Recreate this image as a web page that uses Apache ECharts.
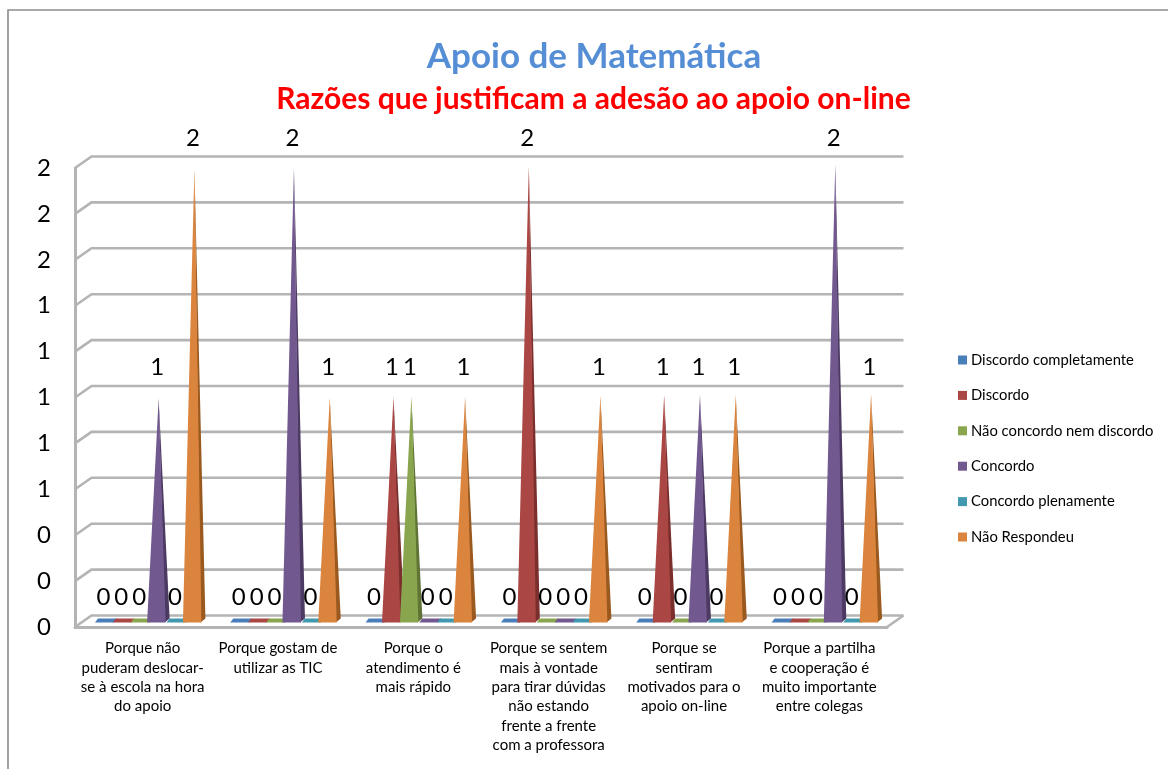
<!DOCTYPE html>
<html><head><meta charset="utf-8">
<script src="https://cdn.jsdelivr.net/npm/echarts@6/dist/echarts.min.js"></script>
<style>html,body{margin:0;padding:0;background:#fff}#c{width:1168px;height:769px}</style>
</head><body><div id="c"></div>
<script>
const categories = [
 "Porque não\npuderam deslocar-\nse à escola na hora\ndo apoio",
 "Porque gostam de\nutilizar as TIC",
 "Porque o\natendimento é\nmais rápido",
 "Porque se sentem\nmais à vontade\npara tirar dúvidas\nnão estando\nfrente a frente\ncom a professora",
 "Porque se\nsentiram\nmotivados para o\napoio on-line",
 "Porque a partilha\ne cooperação é\nmuito importante\nentre colegas"];
const discordoCompletamente = [0,0,0,0,0,0];
const discordo = [0,0,1,2,1,0];
const naoConcordoNemDiscordo = [0,0,1,0,0,0];
const concordo = [1,2,0,0,1,2];
const concordoPlenamente = [0,0,0,0,0,0];
const naoRespondeu = [2,1,1,1,1,1];
const seriesNames = ["Discordo completamente","Discordo","Não concordo nem discordo","Concordo","Concordo plenamente","Não Respondeu"];
const seriesValues = [discordoCompletamente,discordo,naoConcordoNemDiscordo,concordo,concordoPlenamente,naoRespondeu];
const seriesColors = ["#4A7EBB","#AA4643","#89A54E","#71588F","#4198AF","#DB843D"];
const sideColors = ["#33587F","#7A2F2D","#5F7435","#4C3A62","#2B6A7B","#99591F"];
const yTicks = [0,0.2,0.4,0.6,0.8,1,1.2,1.4,1.6,1.8,2];

const FONT = 'Lato';
const GRID = '#b4b4b4';

function wallItem(params, api){
  const v = api.value(1), y = api.coord([0,v])[1], cs = params.coordSys;
  const x0 = cs.x, x1 = cs.x + cs.width, dx = 16.5, dy = -11.5;
  const style = {stroke:GRID, lineWidth:2.6, fill:null};
  const children = [
    {type:'polyline', shape:{points:[[x0,y],[x0+dx,y+dy],[x1+dx,y+dy]]}, style}
  ];
  if (v === 0) children.push({type:'line', shape:{x1:x1,y1:y,x2:x1+dx,y2:y+dy}, style});
  return {type:'group', children};
}
function coneItem(s){
  return function(params, api){
    const cat = api.value(0), v = api.value(1);
    const c0 = api.coord([cat,0]), c = api.coord([cat,v]);
    const ax = c0[0] + 7 + (s-2.5)*17.9;
    const base = c0[1] - 4.5;
    const col = seriesColors[s], side = sideColors[s];
    const kids = [];
    if (v > 0) {
      const top = c[1] + 1 - cat*0.9;
      kids.push({type:'polygon', shape:{points:[[ax+6,base],[ax,top],[ax+11,base-4]]}, style:{fill:side}});
      kids.push({type:'polygon', shape:{points:[[ax-11.5,base],[ax,top],[ax+7,base]]}, style:{fill:col}});
    } else {
      kids.push({type:'polygon', shape:{points:[[ax-10,base],[ax-7,base-4],[ax+12,base-4],[ax+9,base]]}, style:{fill:col}});
    }
    kids.push({type:'text', z2:10, style:{text:String(Math.round(v)), x:ax-1.5, y:c[1]-30, align:'center', verticalAlign:'middle',
      font:'24px '+FONT, fill:'#000'}});
    return {type:'group', children:kids};
  };
}

const series = [{
  type:'custom', name:'wall', silent:true, z:1, clip:false,
  data: yTicks.map(v=>[0,v]), encode:{x:0,y:1}, renderItem:wallItem, tooltip:{show:false}
}];
seriesNames.forEach((name,s)=>{
  series.push({type:'custom', name, z:3+s, clip:false, itemStyle:{color:seriesColors[s]},
    data: seriesValues[s].map((v,i)=>[i,v]), encode:{x:0,y:1}, renderItem:coneItem(s)});
});

const chart = echarts.init(document.getElementById('c'), null, {renderer:'canvas'});
chart.setOption({
  animation:false,
  backgroundColor:'#fff',
  graphic:[{type:'rect', silent:true, z:-1, shape:{x:8,y:10,width:1180,height:790}, style:{fill:'none',stroke:'#8c8c8c',lineWidth:1.6}}],
  title:[
    {text:'Apoio de Matemática', left:589, top:34, textAlign:'center',
     textStyle:{fontFamily:FONT,fontSize:35,fontWeight:'bold',color:'#558ED5'}},
    {text:'Razões que justificam a adesão ao apoio on-line', left:588.5, top:79, textAlign:'center',
     textStyle:{fontFamily:FONT,fontSize:30,fontWeight:'bold',color:'#FF0000'}}
  ],
  legend:{orient:'vertical', left:953, top:346, icon:'rect', itemWidth:9, itemHeight:9, itemGap:17.4,
    data:seriesNames, selectedMode:false,
    textStyle:{fontFamily:FONT,fontSize:14.8,color:'#000',padding:[0,0,0,-1],lineHeight:18}},
  grid:{left:75, top:168, width:812, height:459, containLabel:false},
  xAxis:{type:'category', data:categories,
    axisLine:{lineStyle:{color:GRID,width:3}}, axisTick:{show:false},
    axisLabel:{interval:0, margin:12, fontFamily:FONT, fontSize:15, lineHeight:19.3, color:'#000', align:'center', verticalAlign:'top'}},
  yAxis:{type:'value', min:0, max:2, interval:0.2,
    axisLine:{show:true,lineStyle:{color:GRID,width:3}}, axisTick:{show:false}, splitLine:{show:false},
    axisLabel:{margin:24, fontFamily:FONT, fontSize:24, color:'#000', padding:[6,0,0,0], formatter:v=>String(Math.round(v))}},
  series
});
</script></body></html>
